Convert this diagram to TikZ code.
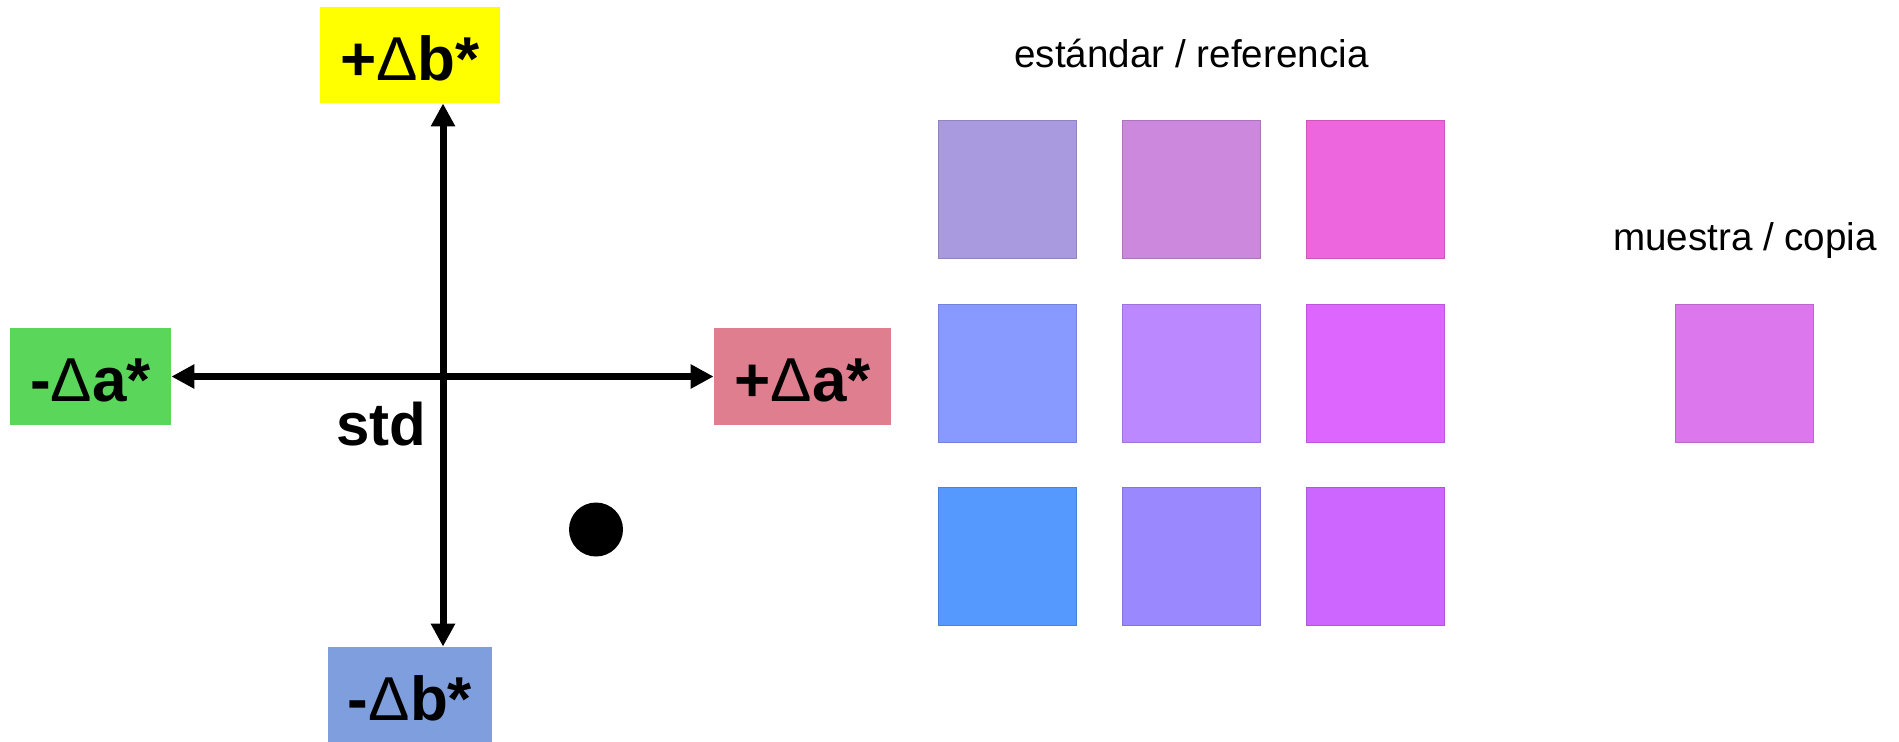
\documentclass[tikz,border=0pt]{standalone}
\usepackage{fontspec}
\setmainfont{Liberation Sans}
\usetikzlibrary{arrows.meta}
\definecolor{cyel}{HTML}{FFFF00}
\definecolor{cgre}{HTML}{5AD65A}
\definecolor{cpin}{HTML}{DE7E8E}
\definecolor{cblu}{HTML}{7F9EDE}
\definecolor{sqa}{HTML}{A99ADF}
\definecolor{sqb}{HTML}{CC88DD}
\definecolor{sqc}{HTML}{EE66DD}
\definecolor{sqd}{HTML}{8899FF}
\definecolor{sqe}{HTML}{BB88FF}
\definecolor{sqf}{HTML}{DD66FF}
\definecolor{sqg}{HTML}{5599FF}
\definecolor{sqh}{HTML}{9988FF}
\definecolor{sqi}{HTML}{CC66FF}
\definecolor{sqs}{HTML}{DD77EE}
\tikzset{
  axlabel/.style={inner sep=0pt, font=\fontsize{31pt}{31pt}\selectfont\bfseries, text height=25pt, text depth=0pt},
  swatch/.style={fill=#1, draw=#1!85!black, line width=0.5pt, minimum width=69pt, minimum height=69pt, inner sep=0pt},
  axis/.style={line width=3.5pt, {Triangle[length=11.5pt,width=11.5pt]}-{Triangle[length=11.5pt,width=11.5pt]}},
  caption/.style={inner sep=0pt, anchor=base, font=\fontsize{19.3pt}{19.3pt}\selectfont}
}
\newcommand{\dlt}{{\mdseries Δ}}
\begin{document}
\begin{tikzpicture}[x=0.5pt,y=-0.5pt]
\useasboundingbox (0,0) rectangle (1899,741);
% axis labels
\node[axlabel, fill=cyel, minimum width=90pt, minimum height=48pt] (yel) at (410,55) {+\dlt b*};
\node[axlabel, fill=cgre, minimum width=80.5pt, minimum height=48.5pt] (gre) at (90.5,376.5) {-\dlt a*};
\node[axlabel, fill=cpin, minimum width=88.5pt, minimum height=48.5pt] (pin) at (802.5,376.5) {+\dlt a*};
\node[axlabel, fill=cblu, minimum width=82pt, minimum height=48pt] (blu) at (410,695) {-\dlt b*};
\coordinate (o) at (443,376.5);
\draw[axis] (gre.east) -- (pin.west);
\draw[axis] (o |- yel.south) -- (o |- blu.north);
\node[inner sep=0pt, anchor=base, font=\fontsize{30pt}{30pt}\selectfont\bfseries] (std) at (381,445) {std};
\node[circle, fill=black, minimum size=27pt, inner sep=0pt] (dot) at (596,529.5) {};
% swatches
\node[caption] (ref) at (1191.5,67) {estándar / referencia};
\node[swatch=sqa] (s11) at (1007.6,189) {};
\node[swatch=sqb] (s12) at (1191.75,189) {};
\node[swatch=sqc] (s13) at (1375.25,189) {};
\node[swatch=sqd] (s21) at (1007.6,373) {};
\node[swatch=sqe] (s22) at (1191.75,373) {};
\node[swatch=sqf] (s23) at (1375.25,373) {};
\node[swatch=sqg] (s31) at (1007.6,556.5) {};
\node[swatch=sqh] (s32) at (1191.75,556.5) {};
\node[swatch=sqi] (s33) at (1375.25,556.5) {};
\node[caption] (smp) at (1745,250) {muestra / copia};
\node[swatch=sqs] (s0) at (1744.5,373.5) {};
\end{tikzpicture}
\end{document}
